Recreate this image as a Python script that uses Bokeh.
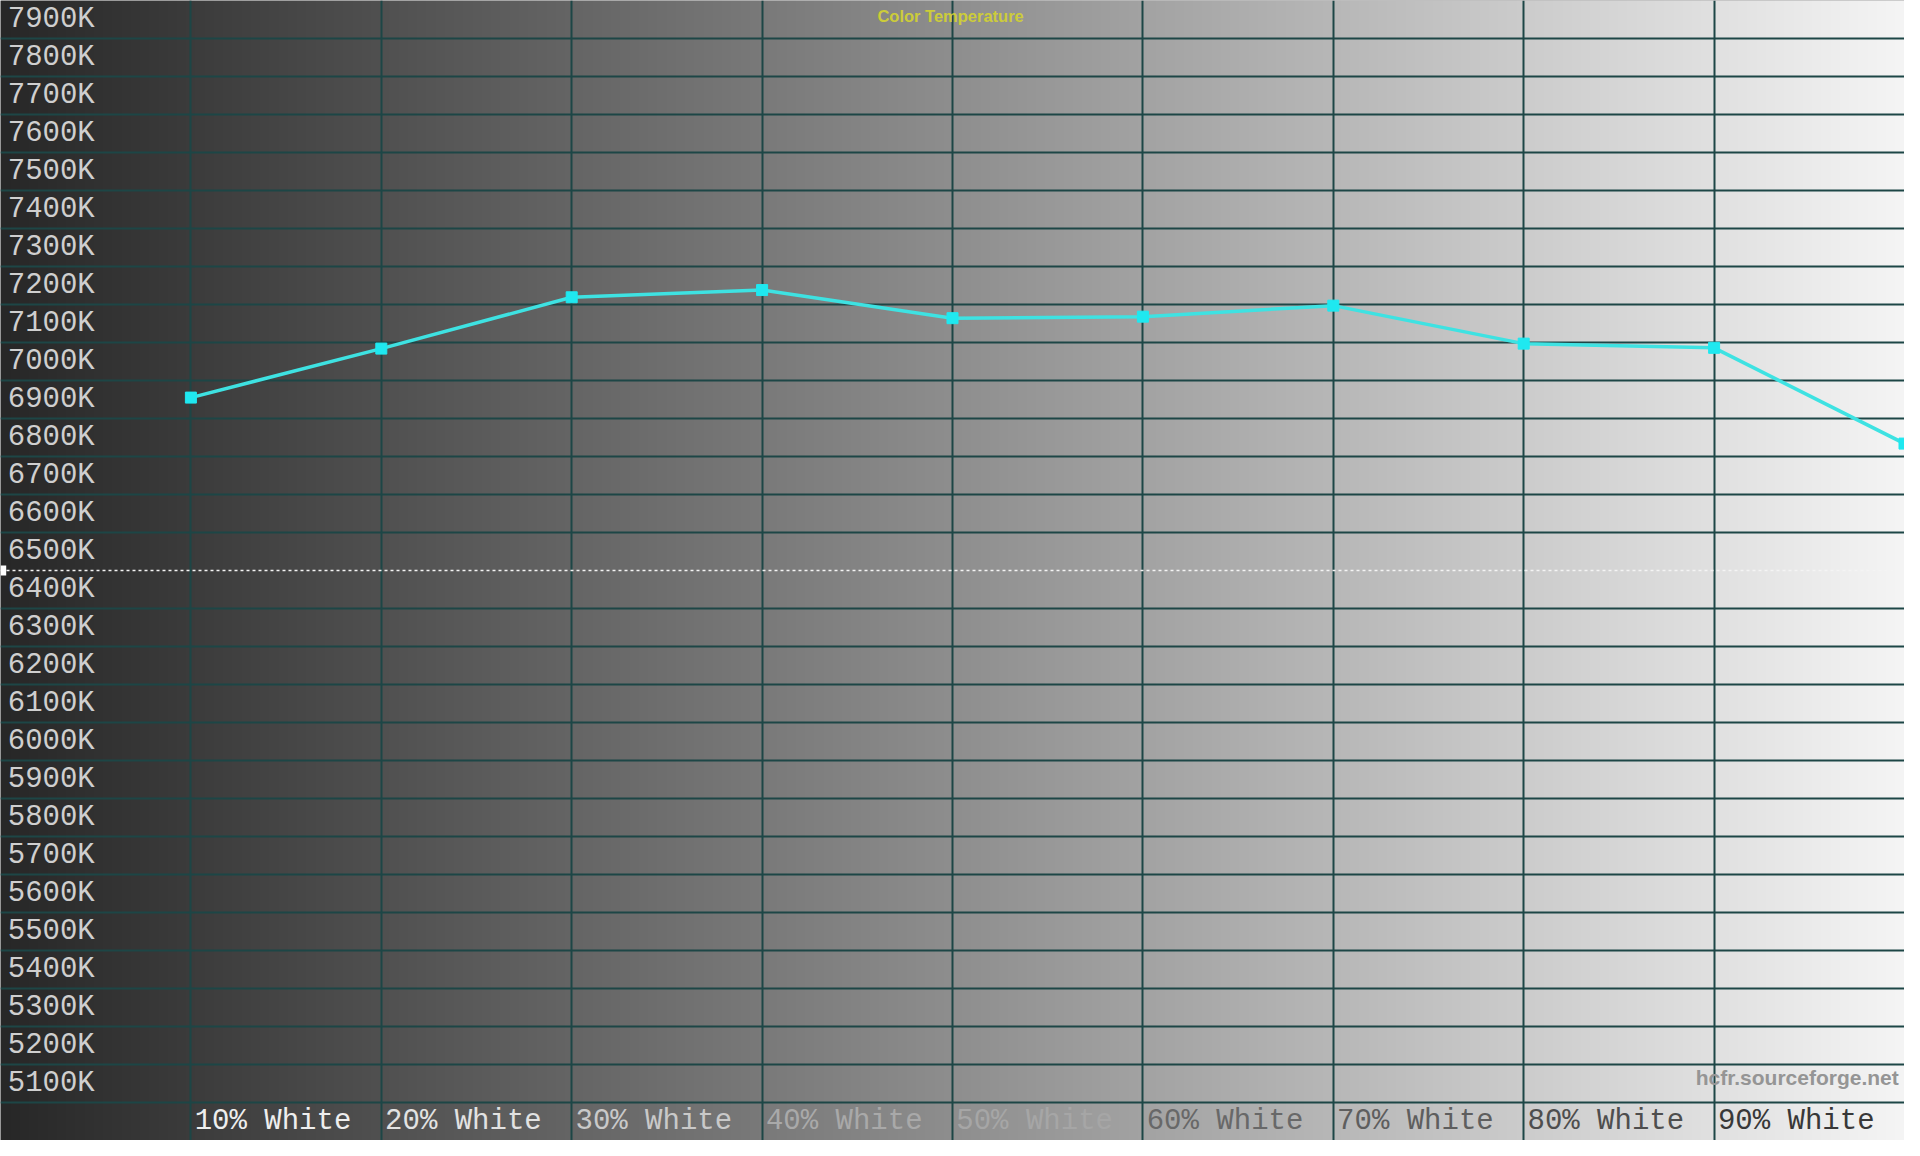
import numpy as np
from bokeh.plotting import figure
from bokeh.models import Range1d, FixedTicker, Span, Label, ColumnDataSource, BoxAnnotation
from bokeh.core.properties import value
from bokeh.embed import file_html
from bokeh.resources import INLINE

# ---- data ----
levels = [10, 20, 30, 40, 50, 60, 70, 80, 90, 100]
cct = [6955, 7084, 7219, 7238, 7164, 7168, 7197, 7097, 7086, 6834]
target_cct = 6500
y_ticks = list(range(5100, 8000, 100))
y_tick_labels = [f"{t}K" for t in y_ticks]
x_ticks = [10, 20, 30, 40, 50, 60, 70, 80, 90]
x_tick_labels = [f"{t}% White" for t in x_ticks]
x_label_colors = ["#eeeeee", "#e2e2e2", "#c9c9c9", "#a9a9a9", "#a6a6a6",
                  "#686868", "#5e5e5e", "#4e4e4e", "#383838"]

W, H = 1904, 1140
p = figure(width=W, height=H, x_range=Range1d(0, 100), y_range=Range1d(5000, 8000),
           output_backend="svg", toolbar_location=None, min_border=0,
           background_fill_color="#808080", border_fill_color="#808080")
p.outline_line_color = None
p.xaxis.visible = False
p.yaxis.visible = False

# background horizontal gradient
n = 1904
t = np.linspace(0, 1, n)
g = (0x27 + (0xf5 - 0x27) * t).astype(np.uint32)
img = np.empty((1, n), dtype=np.uint32)
view = img.view(dtype=np.uint8).reshape((1, n, 4))
view[0, :, 0] = g
view[0, :, 1] = g
view[0, :, 2] = g
view[0, :, 3] = 255
bg = p.image_rgba(image=[img], x=0, y=5000, dw=100, dh=3000)
bg.level = "image"

# grid
p.xgrid.ticker = FixedTicker(ticks=x_ticks)
p.ygrid.ticker = FixedTicker(ticks=[v for v in y_ticks if v != target_cct])
for gr in (p.xgrid, p.ygrid):
    gr.grid_line_color = "#1d4646"
    gr.grid_line_width = 2
    gr.grid_line_alpha = 1.0

# target reference
p.add_layout(Span(location=target_cct, dimension="width", line_color="#f4f4f4",
                  line_dash="3 3", line_width=1.5))
p.add_layout(BoxAnnotation(left=0, right=0.3, bottom=target_cct - 13, top=target_cct + 13,
                           fill_color="white", fill_alpha=1, line_color=None))

# tick labels drawn inside the plot
ysrc = ColumnDataSource(dict(x=[0.38] * len(y_ticks), y=[v + 50 for v in y_ticks], t=y_tick_labels))
p.text(x="x", y="y", text="t", source=ysrc, text_font=value("Liberation Mono"),
       text_font_size="29px", text_color="#cfcfcf", text_baseline="middle", text_align="left")

xsrc = ColumnDataSource(dict(x=[v + 0.2 for v in x_ticks], y=[5050] * len(x_ticks),
                             t=x_tick_labels, c=x_label_colors))
p.text(x="x", y="y", text="t", source=xsrc, text_font=value("Liberation Mono"),
       text_font_size="29px", text_color="c", text_baseline="middle", text_align="left")

# series
src = ColumnDataSource(dict(x=levels, y=cct))
p.line("x", "y", source=src, line_color="#3ee2e2", line_width=3.5)
p.scatter("x", "y", source=src, marker="square", size=11, fill_color="#1fe8f0",
          line_color="#1fe8f0")

# title and watermark
p.add_layout(Label(x=49.9, y=7958, text="Color Temperature", text_align="center",
                   text_baseline="middle", text_font="Liberation Sans", text_font_style="bold",
                   text_font_size="16.5px", text_color="#cccc3a"))
p.add_layout(Label(x=99.7, y=5167, text="hcfr.sourceforge.net", text_align="right",
                   text_baseline="middle", text_font="Liberation Sans", text_font_style="bold",
                   text_font_size="21px", text_color="#959595"))

open("out.html", "w").write(file_html(p, INLINE))
